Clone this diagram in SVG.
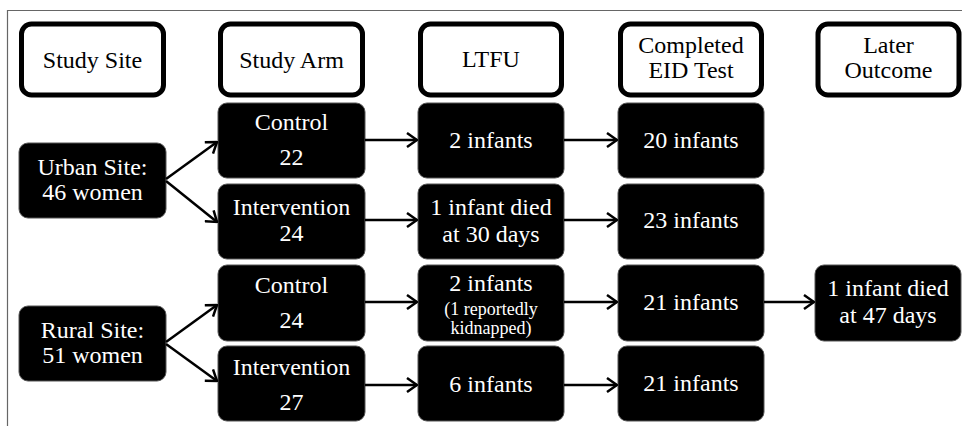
<svg xmlns="http://www.w3.org/2000/svg" width="962" height="426" viewBox="0 0 962 426">
<style>
.frame{fill:none;stroke:#666;stroke-width:1.2}
.hdr{fill:#fff;stroke:#000;stroke-width:5}
.blk{fill:#000;stroke:#555;stroke-width:1}
.t{font-family:"Liberation Serif","Times New Roman",serif;font-size:24px;text-anchor:middle}
.tw{fill:#fff}
.tb{fill:#000}
.sm{font-size:18px}
.conn line{stroke:#000;stroke-width:2.5;fill:none}
</style>
<defs>
<marker id="ah" viewBox="0 0 12 16" refX="11" refY="8" markerWidth="12" markerHeight="16" markerUnits="userSpaceOnUse" orient="auto">
<path d="M1,1 L11,8 L1,15" fill="none" stroke="#000" stroke-width="2.5"/>
</marker>
</defs>
<rect width="962" height="426" fill="#fff"/>
<path class="frame" d="M7.5,426 L7.5,10.5 L962,10.5"/>

<g id="h-site"><rect class="hdr" x="21.5" y="24" width="142" height="71" rx="10"/><text class="t tb" x="92.5" y="68">Study Site</text></g>
<g id="h-arm"><rect class="hdr" x="220.5" y="24" width="142" height="71" rx="10"/><text class="t tb" x="291.5" y="68">Study Arm</text></g>
<g id="h-ltfu"><rect class="hdr" x="420.5" y="24" width="141" height="71" rx="10"/><text class="t tb" x="491" y="67">LTFU</text></g>
<g id="h-eid"><rect class="hdr" x="620.5" y="24" width="141" height="71" rx="10"/><text class="t tb" x="691" y="53">Completed</text><text class="t tb" x="691" y="78">EID Test</text></g>
<g id="h-later"><rect class="hdr" x="818" y="24" width="141" height="71" rx="10"/><text class="t tb" x="888.5" y="53">Later</text><text class="t tb" x="888.5" y="78">Outcome</text></g>

<g id="urban"><rect class="blk" x="19" y="143" width="147" height="75" rx="9"/><text class="t tw" x="92.5" y="175">Urban Site:</text><text class="t tw" x="92.5" y="200">46 women</text></g>
<g id="rural"><rect class="blk" x="19" y="306" width="147" height="75" rx="9"/><text class="t tw" x="92.5" y="338">Rural Site:</text><text class="t tw" x="92.5" y="363">51 women</text></g>

<g id="u-control"><rect class="blk" x="218" y="103" width="147" height="75" rx="9"/><text class="t tw" x="291.5" y="130">Control</text><text class="t tw" x="291.5" y="165">22</text></g>
<g id="u-interv"><rect class="blk" x="218" y="184" width="147" height="75" rx="9"/><text class="t tw" x="291.5" y="215">Intervention</text><text class="t tw" x="291.5" y="241">24</text></g>
<g id="r-control"><rect class="blk" x="218" y="265" width="147" height="76" rx="9"/><text class="t tw" x="291.5" y="293">Control</text><text class="t tw" x="291.5" y="328">24</text></g>
<g id="r-interv"><rect class="blk" x="218" y="346" width="147" height="75" rx="9"/><text class="t tw" x="291.5" y="375">Intervention</text><text class="t tw" x="291.5" y="410">27</text></g>

<g id="u-c-ltfu"><rect class="blk" x="418" y="103" width="146" height="75" rx="9"/><text class="t tw" x="491" y="148">2 infants</text></g>
<g id="u-i-ltfu"><rect class="blk" x="418" y="184" width="146" height="75" rx="9"/><text class="t tw" x="491" y="215">1 infant died</text><text class="t tw" x="491" y="242">at 30 days</text></g>
<g id="r-c-ltfu"><rect class="blk" x="418" y="265" width="146" height="76" rx="9"/><text class="t tw" x="491" y="291">2 infants</text><text class="t tw sm" x="491" y="315">(1 reportedly</text><text class="t tw sm" x="491" y="334">kidnapped)</text></g>
<g id="r-i-ltfu"><rect class="blk" x="418" y="346" width="146" height="75" rx="9"/><text class="t tw" x="491" y="392">6 infants</text></g>

<g id="u-c-eid"><rect class="blk" x="618" y="103" width="146" height="75" rx="9"/><text class="t tw" x="691" y="148">20 infants</text></g>
<g id="u-i-eid"><rect class="blk" x="618" y="184" width="146" height="75" rx="9"/><text class="t tw" x="691" y="228">23 infants</text></g>
<g id="r-c-eid"><rect class="blk" x="618" y="265" width="146" height="76" rx="9"/><text class="t tw" x="691" y="310">21 infants</text></g>
<g id="r-i-eid"><rect class="blk" x="618" y="346" width="146" height="75" rx="9"/><text class="t tw" x="691" y="391">21 infants</text></g>

<g id="r-c-later"><rect class="blk" x="815" y="265" width="146" height="76" rx="9"/><text class="t tw" x="888" y="296">1 infant died</text><text class="t tw" x="888" y="323">at 47 days</text></g>

<g class="conn" id="connectors">
<line x1="166" y1="179" x2="217" y2="142" marker-end="url(#ah)"/>
<line x1="166" y1="181" x2="217" y2="222" marker-end="url(#ah)"/>
<line x1="166" y1="342" x2="217" y2="305" marker-end="url(#ah)"/>
<line x1="166" y1="344" x2="217" y2="381" marker-end="url(#ah)"/>
<line x1="365" y1="140" x2="417" y2="140" marker-end="url(#ah)"/>
<line x1="365" y1="220" x2="417" y2="220" marker-end="url(#ah)"/>
<line x1="365" y1="302" x2="417" y2="302" marker-end="url(#ah)"/>
<line x1="365" y1="385" x2="417" y2="385" marker-end="url(#ah)"/>
<line x1="564" y1="140" x2="617" y2="140" marker-end="url(#ah)"/>
<line x1="564" y1="220" x2="617" y2="220" marker-end="url(#ah)"/>
<line x1="564" y1="302" x2="617" y2="302" marker-end="url(#ah)"/>
<line x1="564" y1="385" x2="617" y2="385" marker-end="url(#ah)"/>
<line x1="764" y1="302" x2="814" y2="302" marker-end="url(#ah)"/>
</g>
</svg>
